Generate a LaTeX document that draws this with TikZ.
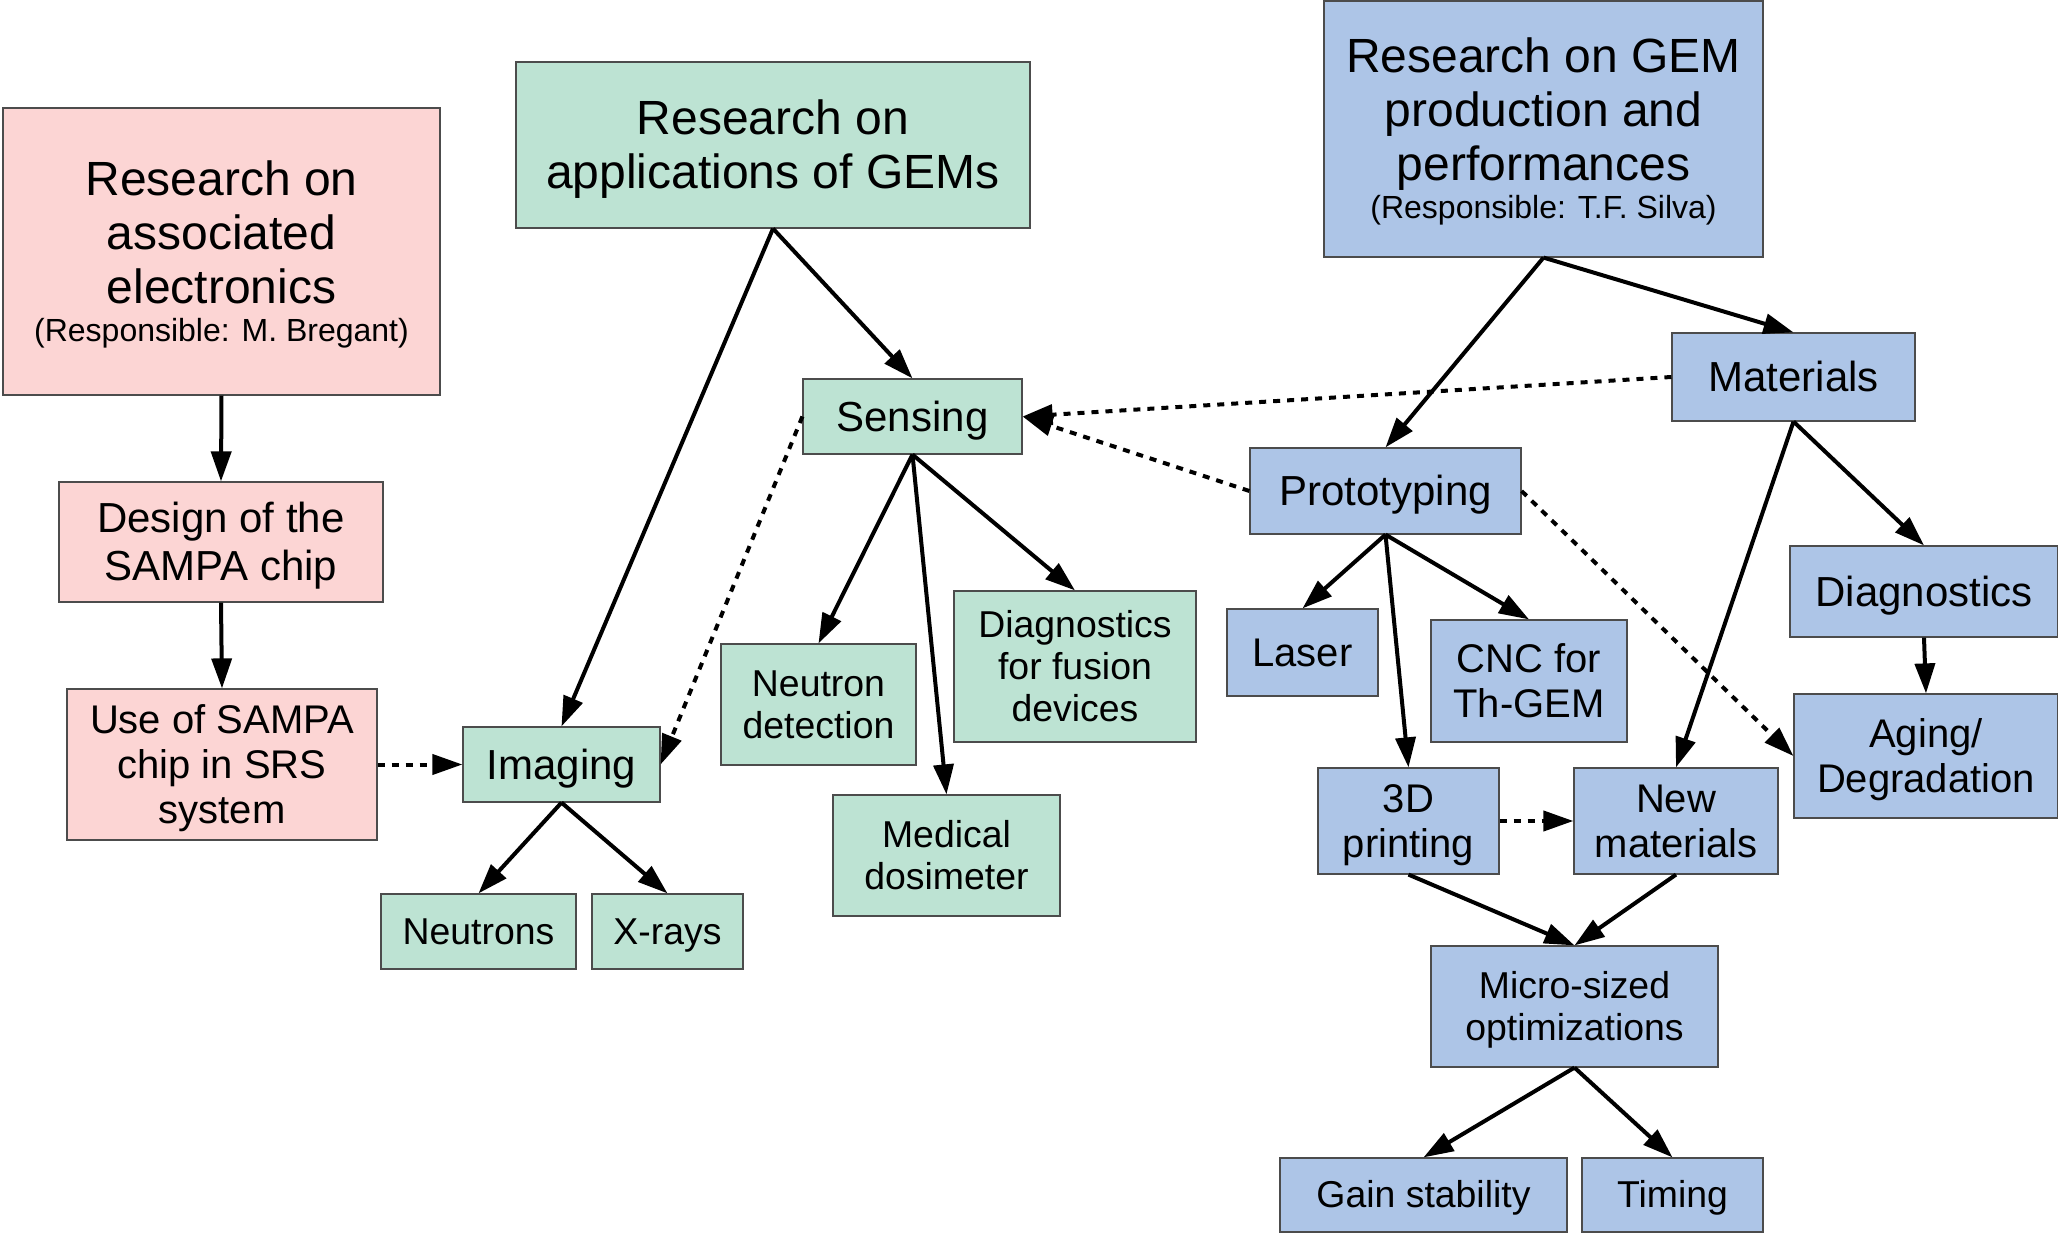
\documentclass[tikz,border=0pt]{standalone}
\usepackage{fontspec}
\setmainfont{Liberation Sans}
\usetikzlibrary{arrows.meta}
\definecolor{elecpink}{RGB}{252,213,212}
\definecolor{applgreen}{RGB}{189,227,211}
\definecolor{gemblue}{RGB}{173,197,231}
\tikzset{x=0.5pt, y=-0.5pt, % one unit is one pixel of the original picture
        box/.style={ % Common look of all boxes
            draw=black!70,
            line width=0.6pt,
            align=center,
            inner sep=0pt,
            execute at begin node={\rule{0pt}{0.905em}}, % full line height (one-line boxes)
            execute at end node={\rule[-0.212em]{0pt}{0pt}}}, % full depth, last line
        elec/.style={box, fill=elecpink},  % electronics branch
        appl/.style={box, fill=applgreen}, % applications branch
        gem/.style={box, fill=gemblue},    % GEM production branch
        dims/.style 2 args={minimum width=#1, minimum height=#2},
        big/.style={font=\fontsize{24}{27}\selectfont},
        mid/.style={font=\fontsize{21}{24}\selectfont},
        small/.style={font=\fontsize{20}{22.5}\selectfont},
        tiny/.style={font=\fontsize{18.7}{21}\selectfont},
        every edge/.style={ % Sets the properties for each link
            draw,
            -{Triangle[length=15pt,width=10pt]},
            line width=2pt},
        weak/.style={dash pattern=on 3.5pt off 3.5pt} % dotted links
        }
\newcommand{\fstrut}{\rule{0pt}{0.905em}} % full height of a first line
\newcommand{\resp}[1]{{\fontsize{16}{19}\selectfont (Responsible: #1)}}

\begin{document}
\begin{tikzpicture}
    \useasboundingbox (0,0) rectangle (2058,1235);

    % electronics
    \node[elec, big, dims={218.5pt}{143.5pt}] (elec) at (221.5,251.5)
        {\fstrut Research on\\associated\\electronics\\[-8pt]\resp{M. Bregant}};
    \node[elec, mid, dims={162pt}{60pt}] (design) at (221,542) {\fstrut Design of the\\SAMPA chip};
    \node[elec, small, dims={155pt}{75.5pt}] (use) at (222,764.5) {\fstrut Use of SAMPA\\chip in SRS\\system};

    % applications
    \node[appl, big, dims={257pt}{83pt}] (appl) at (773,145) {\fstrut Research on\\applications of GEMs};
    \node[appl, mid, dims={98.5pt}{37.5pt}] (imaging) at (561.5,764.5) {Imaging};
    \node[appl, tiny, dims={97.5pt}{37.5pt}] (neutrons) at (478.5,931.5) {Neutrons};
    \node[appl, tiny, dims={75.5pt}{37.5pt}] (xrays) at (667.5,931.5) {X-rays};
    \node[appl, mid, dims={109.5pt}{37.5pt}] (sensing) at (912.5,416.5) {Sensing};
    \node[appl, tiny, dims={97.5pt}{60.5pt}] (ndet) at (818.5,704.5) {\fstrut Neutron\\detection};
    \node[appl, tiny, dims={121pt}{75.5pt}] (fusion) at (1075,666.5) {\fstrut Diagnostics\\for fusion\\devices};
    \node[appl, tiny, dims={113.5pt}{60.5pt}] (medical) at (946.5,855.5) {\fstrut Medical\\dosimeter};

    % GEM production
    \node[gem, big, dims={219.5pt}{128pt}] (gem) at (1543.5,129)
        {\fstrut Research on GEM\\production and\\performances\\[-8pt]\resp{T.F. Silva}};
    \node[gem, mid, dims={121.5pt}{44pt}] (materials) at (1793.5,377) {Materials};
    \node[gem, mid, dims={135.5pt}{43pt}] (proto) at (1385.5,491) {Prototyping};
    \node[gem, small, dims={75.5pt}{43.5pt}] (laser) at (1302.5,652.5) {Laser};
    \node[gem, small, dims={98pt}{61pt}] (cnc) at (1529,681) {\fstrut CNC for\\Th-GEM};
    \node[gem, mid, dims={134pt}{45.5pt}] (diag) at (1924,591.5) {Diagnostics};
    \node[gem, small, dims={132pt}{62pt}] (aging) at (1926,756) {\fstrut Aging/\\Degradation};
    \node[gem, small, dims={90.5pt}{53pt}] (print) at (1408.5,821) {\fstrut 3D\\printing};
    \node[gem, small, dims={102pt}{53pt}] (newmat) at (1676,821) {\fstrut New\\materials};
    \node[gem, tiny, dims={143.5pt}{60.5pt}] (micro) at (1574.5,1006.5) {\fstrut Micro-sized\\optimizations};
    \node[gem, tiny, dims={143.5pt}{37pt}] (gain) at (1423.5,1195) {Gain stability};
    \node[gem, tiny, dims={90.5pt}{37pt}] (timing) at (1672.5,1195) {Timing};

    \draw
        (elec.south) edge (design.north)
        (design.south) edge (use.north)
        (use.east) edge [weak] (imaging.west)
        (appl.south)
            edge (imaging.north)
            edge (sensing.north)
        (sensing.west) edge [weak] (imaging.east)
        (sensing.south)
            edge (ndet.north)
            edge (medical.north)
            edge (fusion.north)
        (imaging.south)
            edge (neutrons.north)
            edge (xrays.north)
        (gem.south)
            edge (materials.north)
            edge (proto.north)
        (materials.west) edge [weak] (sensing.east)
        (proto.west) edge [weak] (sensing.east)
        (proto.east) edge [weak] (aging.west)
        (proto.south)
            edge (laser.north)
            edge (cnc.north)
            edge (print.north)
        (materials.south)
            edge (diag.north)
            edge (newmat.north)
        (diag.south) edge (aging.north)
        (print.east) edge [weak] (newmat.west)
        (print.south) edge (micro.north)
        (newmat.south) edge (micro.north)
        (micro.south)
            edge (gain.north)
            edge (timing.north);
\end{tikzpicture}
\end{document}
